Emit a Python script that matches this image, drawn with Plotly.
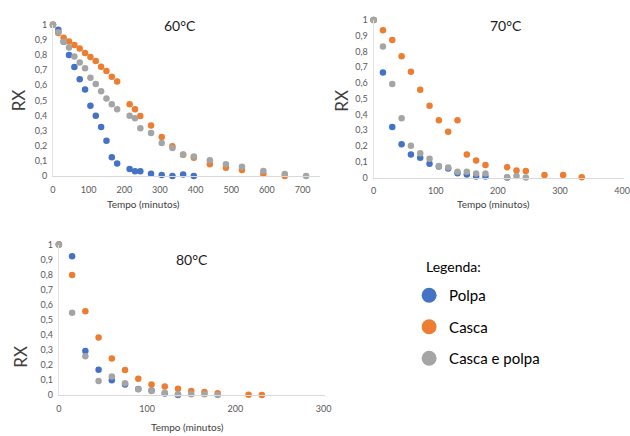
import plotly.graph_objects as go

# ---------------- data ----------------
series_names = ["Polpa", "Casca", "Casca e polpa"]
colors = ["#4472C4", "#ED7D31", "#A5A5A5"]

t60 = [0, 15, 30, 45, 60, 75, 90, 105, 120, 135, 150, 165, 180, 215, 230, 245,
       275, 305, 335, 365, 395, 440, 485, 530, 590, 650, 710]
polpa60 = [1, 0.968, 0.888, 0.80, 0.72, 0.64, 0.572, 0.465, 0.398, 0.323, 0.232,
           0.123, 0.082, 0.045, 0.03, 0.03, 0.015, 0.006, 0.0, 0.009, 0.0]
casca60 = [1, 0.946, 0.915, 0.89, 0.867, 0.843, 0.813, 0.787, 0.761, 0.722, 0.695,
           0.656, 0.624, 0.475, 0.441, 0.396, 0.333, 0.258, 0.196, 0.14, 0.12,
           0.077, 0.054, 0.039, 0.013, 0.0]
cp60 = [1, 0.95, 0.888, 0.85, 0.79, 0.75, 0.712, 0.65, 0.609, 0.561, 0.512, 0.475,
        0.441, 0.398, 0.381, 0.316, 0.284, 0.217, 0.185, 0.142, 0.129, 0.103,
        0.077, 0.06, 0.032, 0.013, 0.0]

t70 = [0, 15, 30, 45, 60, 75, 90, 105, 120, 135, 150, 165, 180, 215, 230, 245,
       275, 305, 335]
polpa70 = [1, 0.666, 0.32, 0.212, 0.146, 0.126, 0.087, 0.07, 0.058, 0.027, 0.019,
           0.006, 0.006, 0.0]
casca70 = [1, 0.934, 0.872, 0.769, 0.672, 0.557, 0.456, 0.363, 0.29, 0.363, 0.146,
           0.109, 0.08, 0.066, 0.045, 0.041, 0.016, 0.016, 0.002]
cp70 = [1, 0.831, 0.594, 0.377, 0.202, 0.155, 0.12, 0.074, 0.064, 0.037, 0.037,
        0.025, 0.025, 0.002, 0.01, 0.0]

t80 = [0, 15, 30, 45, 60, 75, 90, 105, 120, 135, 150, 165, 180, 215, 230]
polpa80 = [1, 0.922, 0.292, 0.167, 0.097, 0.07, 0.04, 0.03, 0.01, 0.0]
casca80 = [1, 0.797, 0.557, 0.382, 0.242, 0.166, 0.108, 0.069, 0.056, 0.041, 0.026,
           0.019, 0.011, 0.002, 0.0]
cp80 = [1, 0.546, 0.257, 0.093, 0.123, 0.078, 0.037, 0.026, 0.015, 0.004, 0.004,
        0.004, 0.0]

panel_titles = ["60°C", "70°C", "80°C"]
y_ticks = [0, 0.1, 0.2, 0.3, 0.4, 0.5, 0.6, 0.7, 0.8, 0.9, 1]
y_ticktext = ["0", "0,1", "0,2", "0,3", "0,4", "0,5", "0,6", "0,7", "0,8", "0,9", "1"]
x_ticks = [[0, 100, 200, 300, 400, 500, 600, 700], [0, 100, 200, 300, 400], [0, 100, 200, 300]]
x_ranges = [[0, 750], [0, 403], [0, 302]]
x_title = "Tempo (minutos)"
y_title = "RX"
legend_title = "Legenda:"

panels = [
    (t60, [polpa60, casca60, cp60]),
    (t70, [polpa70, casca70, cp70]),
    (t80, [polpa80, casca80, cp80]),
]

# ---------------- layout geometry (pixels) ----------------
W, H = 630, 436
# (x0_px, x1_px, ybottom_px, ytop_px)
boxes = [(50.7, 322, 174.3, 19.3), (376, 630, 176, 14.3), (56.7, 327, 399, 244.7)]

FONT = "Lato"
fig = go.Figure()

for i, (t, ys) in enumerate(panels):
    ax = "" if i == 0 else str(i + 1)
    for name, col, y in zip(series_names, colors, ys):
        fig.add_trace(go.Scatter(
            x=t[:len(y)], y=y, mode="markers", name=name,
            marker=dict(color=col, size=6.5, line=dict(width=0)),
            xaxis="x" + ax, yaxis="y" + ax, showlegend=False, cliponaxis=False,
        ))

# legend-only traces
for k, (name, col) in enumerate(zip(series_names, colors)):
    fig.add_trace(go.Scatter(
        x=[None], y=[None], mode="markers", name=name, legendgroup=name,
        marker=dict(color=col, size=15), showlegend=True,
    ))

layout = dict(
    width=W, height=H, margin=dict(l=0, r=0, t=0, b=0),
    paper_bgcolor="white", plot_bgcolor="white",
    font=dict(family=FONT, color="#595959"),
    showlegend=True,
    legend=dict(
        x=412 / W, y=1 - 280 / H, xanchor="left", yanchor="top",
        font=dict(family=FONT, size=15, color="#000000"),
        itemsizing="trace", traceorder="grouped", tracegroupgap=9,
        bgcolor="rgba(0,0,0,0)",
    ),
)

annotations = []
for i, (x0, x1, yb, yt) in enumerate(boxes):
    ax = "" if i == 0 else str(i + 1)
    layout["xaxis" + ax] = dict(
        domain=[x0 / W, x1 / W], range=x_ranges[i], anchor="y" + ax,
        tickvals=x_ticks[i], ticktext=[str(v) for v in x_ticks[i]],
        showgrid=False, zeroline=False, showline=True, linecolor="#D9D9D9", linewidth=1,
        ticks="outside", ticklen=5, tickcolor="rgba(0,0,0,0)",
        tickfont=dict(family=FONT, size=9, color="#595959"),
    )
    layout["yaxis" + ax] = dict(
        domain=[1 - yb / H, 1 - yt / H], range=[0, 1], anchor="x" + ax,
        tickvals=y_ticks, ticktext=y_ticktext,
        showgrid=False, zeroline=False, showline=True, linecolor="#E3E3E3", linewidth=1,
        ticks="outside", ticklen=3, tickcolor="rgba(0,0,0,0)",
        tickfont=dict(family=FONT, size=9, color="#595959"),
    )

title_pos = [(180, 20), (510, 20), (192, 260)]
rx_pos = [(16, 97), (343, 97), (18, 360)]
xt_pos = [(143, 203), (498, 203), (187, 432)]
for i in range(3):
    annotations.append(dict(text=panel_titles[i], x=title_pos[i][0] / W, y=1 - title_pos[i][1] / H,
                            xref="paper", yref="paper", showarrow=False,
                            xanchor="center", yanchor="middle",
                            font=dict(family=FONT, size=14, color="#1a1a1a")))
    annotations.append(dict(text=y_title, x=rx_pos[i][0] / W, y=1 - rx_pos[i][1] / H,
                            xref="paper", yref="paper", showarrow=False, textangle=-90,
                            xanchor="center", yanchor="middle",
                            font=dict(family=FONT, size=17, color="#404040")))
    annotations.append(dict(text=x_title, x=xt_pos[i][0] / W, y=1 - xt_pos[i][1] / H,
                            xref="paper", yref="paper", showarrow=False,
                            xanchor="center", yanchor="middle",
                            font=dict(family=FONT, size=10, color="#404040")))

annotations.append(dict(text=legend_title, x=427 / W, y=1 - 267 / H, xref="paper", yref="paper",
                        showarrow=False, xanchor="left", yanchor="middle",
                        font=dict(family=FONT, size=14, color="#000000")))
layout["annotations"] = annotations

fig.update_layout(**layout)
fig.write_html("out.html")
